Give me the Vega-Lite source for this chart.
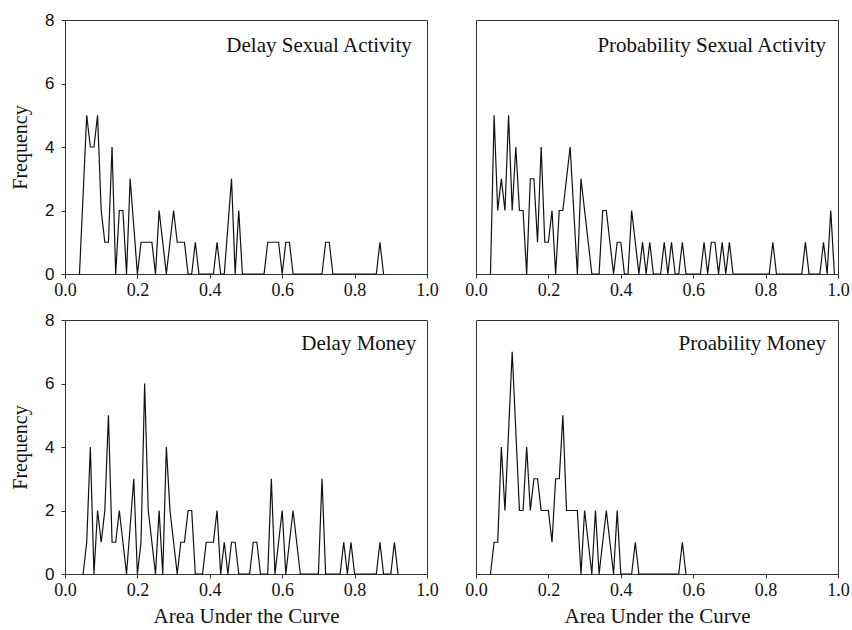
{
  "$schema": "https://vega.github.io/schema/vega-lite/v6.json",
  "background": "white",
  "padding": {"left": 10, "top": 10, "right": 0, "bottom": 0},
  "config": {
    "view": {"stroke": "#333", "strokeWidth": 1},
    "axis": {"grid": false, "domainColor": "#333", "tickColor": "#333", "tickSize": 4, "labelColor": "#111", "titleColor": "#111", "titleFontWeight": "normal", "titleFont": "Liberation Serif", "labelFlush": false, "labelOverlap": false},
    "line": {"color": "#111", "strokeWidth": 1.2},
    "text": {"font": "Liberation Serif", "fontSize": 21, "align": "right", "baseline": "alphabetic", "color": "#111"}
  },
  "datasets": {
    "dsa": [
      {"auc": 0.04, "freq": 0}, {"auc": 0.06, "freq": 5}, {"auc": 0.07, "freq": 4}, {"auc": 0.08, "freq": 4}, {"auc": 0.09, "freq": 5}, {"auc": 0.10, "freq": 2}, {"auc": 0.11, "freq": 1}, {"auc": 0.12, "freq": 1}, {"auc": 0.13, "freq": 4}, {"auc": 0.14, "freq": 0}, {"auc": 0.15, "freq": 2}, {"auc": 0.16, "freq": 2}, {"auc": 0.17, "freq": 0}, {"auc": 0.18, "freq": 3}, {"auc": 0.20, "freq": 0}, {"auc": 0.21, "freq": 1}, {"auc": 0.24, "freq": 1}, {"auc": 0.25, "freq": 0}, {"auc": 0.26, "freq": 2}, {"auc": 0.28, "freq": 0}, {"auc": 0.30, "freq": 2}, {"auc": 0.31, "freq": 1}, {"auc": 0.33, "freq": 1}, {"auc": 0.34, "freq": 0}, {"auc": 0.35, "freq": 0}, {"auc": 0.36, "freq": 1}, {"auc": 0.37, "freq": 0}, {"auc": 0.41, "freq": 0}, {"auc": 0.42, "freq": 1}, {"auc": 0.43, "freq": 0}, {"auc": 0.44, "freq": 0}, {"auc": 0.46, "freq": 3}, {"auc": 0.47, "freq": 0}, {"auc": 0.48, "freq": 2}, {"auc": 0.49, "freq": 0}, {"auc": 0.55, "freq": 0}, {"auc": 0.56, "freq": 1}, {"auc": 0.59, "freq": 1}, {"auc": 0.60, "freq": 0}, {"auc": 0.61, "freq": 1}, {"auc": 0.62, "freq": 1}, {"auc": 0.63, "freq": 0}, {"auc": 0.71, "freq": 0}, {"auc": 0.72, "freq": 1}, {"auc": 0.73, "freq": 1}, {"auc": 0.74, "freq": 0}, {"auc": 0.86, "freq": 0}, {"auc": 0.87, "freq": 1}, {"auc": 0.88, "freq": 0}
    ],
    "psa": [
      {"auc": 0.04, "freq": 0}, {"auc": 0.05, "freq": 5}, {"auc": 0.06, "freq": 2}, {"auc": 0.07, "freq": 3}, {"auc": 0.08, "freq": 2}, {"auc": 0.09, "freq": 5}, {"auc": 0.10, "freq": 2}, {"auc": 0.11, "freq": 4}, {"auc": 0.12, "freq": 2}, {"auc": 0.13, "freq": 2}, {"auc": 0.14, "freq": 0}, {"auc": 0.15, "freq": 3}, {"auc": 0.16, "freq": 3}, {"auc": 0.17, "freq": 1}, {"auc": 0.18, "freq": 4}, {"auc": 0.19, "freq": 1}, {"auc": 0.20, "freq": 1}, {"auc": 0.21, "freq": 2}, {"auc": 0.22, "freq": 0}, {"auc": 0.23, "freq": 2}, {"auc": 0.24, "freq": 2}, {"auc": 0.26, "freq": 4}, {"auc": 0.28, "freq": 0}, {"auc": 0.29, "freq": 3}, {"auc": 0.32, "freq": 0}, {"auc": 0.34, "freq": 0}, {"auc": 0.35, "freq": 2}, {"auc": 0.36, "freq": 2}, {"auc": 0.38, "freq": 0}, {"auc": 0.39, "freq": 1}, {"auc": 0.40, "freq": 1}, {"auc": 0.41, "freq": 0}, {"auc": 0.42, "freq": 0}, {"auc": 0.43, "freq": 2}, {"auc": 0.45, "freq": 0}, {"auc": 0.46, "freq": 1}, {"auc": 0.47, "freq": 0}, {"auc": 0.48, "freq": 1}, {"auc": 0.49, "freq": 0}, {"auc": 0.51, "freq": 0}, {"auc": 0.52, "freq": 1}, {"auc": 0.53, "freq": 0}, {"auc": 0.54, "freq": 1}, {"auc": 0.55, "freq": 0}, {"auc": 0.56, "freq": 0}, {"auc": 0.57, "freq": 1}, {"auc": 0.58, "freq": 0}, {"auc": 0.62, "freq": 0}, {"auc": 0.63, "freq": 1}, {"auc": 0.64, "freq": 0}, {"auc": 0.65, "freq": 1}, {"auc": 0.66, "freq": 1}, {"auc": 0.67, "freq": 0}, {"auc": 0.68, "freq": 1}, {"auc": 0.69, "freq": 0}, {"auc": 0.70, "freq": 1}, {"auc": 0.71, "freq": 0}, {"auc": 0.81, "freq": 0}, {"auc": 0.82, "freq": 1}, {"auc": 0.83, "freq": 0}, {"auc": 0.90, "freq": 0}, {"auc": 0.91, "freq": 1}, {"auc": 0.92, "freq": 0}, {"auc": 0.95, "freq": 0}, {"auc": 0.96, "freq": 1}, {"auc": 0.97, "freq": 0}, {"auc": 0.98, "freq": 2}, {"auc": 0.99, "freq": 0}
    ],
    "dm": [
      {"auc": 0.05, "freq": 0}, {"auc": 0.06, "freq": 1}, {"auc": 0.07, "freq": 4}, {"auc": 0.08, "freq": 0}, {"auc": 0.09, "freq": 2}, {"auc": 0.10, "freq": 1}, {"auc": 0.11, "freq": 2}, {"auc": 0.12, "freq": 5}, {"auc": 0.13, "freq": 1}, {"auc": 0.14, "freq": 1}, {"auc": 0.15, "freq": 2}, {"auc": 0.17, "freq": 0}, {"auc": 0.19, "freq": 3}, {"auc": 0.20, "freq": 0}, {"auc": 0.21, "freq": 1}, {"auc": 0.22, "freq": 6}, {"auc": 0.23, "freq": 2}, {"auc": 0.25, "freq": 0}, {"auc": 0.26, "freq": 2}, {"auc": 0.27, "freq": 0}, {"auc": 0.28, "freq": 4}, {"auc": 0.29, "freq": 2}, {"auc": 0.31, "freq": 0}, {"auc": 0.32, "freq": 1}, {"auc": 0.33, "freq": 1}, {"auc": 0.34, "freq": 2}, {"auc": 0.35, "freq": 2}, {"auc": 0.36, "freq": 0}, {"auc": 0.38, "freq": 0}, {"auc": 0.39, "freq": 1}, {"auc": 0.41, "freq": 1}, {"auc": 0.42, "freq": 2}, {"auc": 0.43, "freq": 0}, {"auc": 0.44, "freq": 1}, {"auc": 0.45, "freq": 0}, {"auc": 0.46, "freq": 1}, {"auc": 0.47, "freq": 1}, {"auc": 0.48, "freq": 0}, {"auc": 0.51, "freq": 0}, {"auc": 0.52, "freq": 1}, {"auc": 0.53, "freq": 1}, {"auc": 0.54, "freq": 0}, {"auc": 0.56, "freq": 0}, {"auc": 0.57, "freq": 3}, {"auc": 0.58, "freq": 0}, {"auc": 0.60, "freq": 2}, {"auc": 0.61, "freq": 0}, {"auc": 0.63, "freq": 2}, {"auc": 0.65, "freq": 0}, {"auc": 0.70, "freq": 0}, {"auc": 0.71, "freq": 3}, {"auc": 0.72, "freq": 0}, {"auc": 0.76, "freq": 0}, {"auc": 0.77, "freq": 1}, {"auc": 0.78, "freq": 0}, {"auc": 0.79, "freq": 1}, {"auc": 0.80, "freq": 0}, {"auc": 0.86, "freq": 0}, {"auc": 0.87, "freq": 1}, {"auc": 0.88, "freq": 0}, {"auc": 0.90, "freq": 0}, {"auc": 0.91, "freq": 1}, {"auc": 0.92, "freq": 0}
    ],
    "pm": [
      {"auc": 0.04, "freq": 0}, {"auc": 0.05, "freq": 1}, {"auc": 0.06, "freq": 1}, {"auc": 0.07, "freq": 4}, {"auc": 0.08, "freq": 2}, {"auc": 0.10, "freq": 7}, {"auc": 0.12, "freq": 2}, {"auc": 0.13, "freq": 2}, {"auc": 0.14, "freq": 4}, {"auc": 0.15, "freq": 2}, {"auc": 0.16, "freq": 3}, {"auc": 0.17, "freq": 3}, {"auc": 0.18, "freq": 2}, {"auc": 0.20, "freq": 2}, {"auc": 0.21, "freq": 1}, {"auc": 0.22, "freq": 3}, {"auc": 0.23, "freq": 3}, {"auc": 0.24, "freq": 5}, {"auc": 0.25, "freq": 2}, {"auc": 0.28, "freq": 2}, {"auc": 0.29, "freq": 0}, {"auc": 0.30, "freq": 2}, {"auc": 0.32, "freq": 0}, {"auc": 0.33, "freq": 2}, {"auc": 0.34, "freq": 0}, {"auc": 0.36, "freq": 2}, {"auc": 0.38, "freq": 0}, {"auc": 0.39, "freq": 2}, {"auc": 0.40, "freq": 0}, {"auc": 0.43, "freq": 0}, {"auc": 0.44, "freq": 1}, {"auc": 0.45, "freq": 0}, {"auc": 0.56, "freq": 0}, {"auc": 0.57, "freq": 1}, {"auc": 0.58, "freq": 0}
    ]
  },
  "columns": 2,
  "spacing": {"row": 46, "column": 49},
  "bounds": "flush",
  "concat": [
    {
      "width": 362, "height": 254,
      "encoding": {
        "x": {"field": "auc", "type": "quantitative", "scale": {"domain": [0, 1], "nice": false}, "axis": {"values": [0, 0.2, 0.4, 0.6, 0.8, 1.0], "format": ".1f", "title": null, "labelFont": "Liberation Serif", "labelFontSize": 18, "labelPadding": 3}},
        "y": {"field": "freq", "type": "quantitative", "scale": {"domain": [0, 8], "nice": false}, "axis": {"values": [0, 2, 4, 6, 8], "title": "Frequency", "labelFont": "Liberation Sans", "labelFontSize": 17, "labelPadding": 7, "titleFontSize": 20, "titlePadding": 14}}
      },
      "layer": [
        {"data": {"name": "dsa"}, "mark": {"type": "line"}},
        {"data": {"values": [{"auc": 0.958, "freq": 7.0, "label": "Delay Sexual Activity"}]}, "mark": {"type": "text"}, "encoding": {"text": {"field": "label"}}}
      ]
    },
    {
      "width": 362, "height": 254,
      "encoding": {
        "x": {"field": "auc", "type": "quantitative", "scale": {"domain": [0, 1], "nice": false}, "axis": {"values": [0, 0.2, 0.4, 0.6, 0.8, 1.0], "format": ".1f", "title": null, "labelFont": "Liberation Serif", "labelFontSize": 18, "labelPadding": 3}},
        "y": {"field": "freq", "type": "quantitative", "scale": {"domain": [0, 8], "nice": false}, "axis": null}
      },
      "layer": [
        {"data": {"name": "psa"}, "mark": {"type": "line"}},
        {"data": {"values": [{"auc": 0.967, "freq": 7.0, "label": "Probability Sexual Activity"}]}, "mark": {"type": "text"}, "encoding": {"text": {"field": "label"}}}
      ]
    },
    {
      "width": 362, "height": 254,
      "encoding": {
        "x": {"field": "auc", "type": "quantitative", "scale": {"domain": [0, 1], "nice": false}, "axis": {"values": [0, 0.2, 0.4, 0.6, 0.8, 1.0], "format": ".1f", "title": "Area Under the Curve", "labelFont": "Liberation Serif", "labelFontSize": 18, "labelPadding": 3, "titleFontSize": 21, "titlePadding": 6}},
        "y": {"field": "freq", "type": "quantitative", "scale": {"domain": [0, 8], "nice": false}, "axis": {"values": [0, 2, 4, 6, 8], "title": "Frequency", "labelFont": "Liberation Sans", "labelFontSize": 17, "labelPadding": 7, "titleFontSize": 20, "titlePadding": 14}}
      },
      "layer": [
        {"data": {"name": "dm"}, "mark": {"type": "line"}},
        {"data": {"values": [{"auc": 0.97, "freq": 7.05, "label": "Delay Money"}]}, "mark": {"type": "text"}, "encoding": {"text": {"field": "label"}}}
      ]
    },
    {
      "width": 362, "height": 254,
      "encoding": {
        "x": {"field": "auc", "type": "quantitative", "scale": {"domain": [0, 1], "nice": false}, "axis": {"values": [0, 0.2, 0.4, 0.6, 0.8, 1.0], "format": ".1f", "title": "Area Under the Curve", "labelFont": "Liberation Serif", "labelFontSize": 18, "labelPadding": 3, "titleFontSize": 21, "titlePadding": 6}},
        "y": {"field": "freq", "type": "quantitative", "scale": {"domain": [0, 8], "nice": false}, "axis": null}
      },
      "layer": [
        {"data": {"name": "pm"}, "mark": {"type": "line"}},
        {"data": {"values": [{"auc": 0.967, "freq": 7.05, "label": "Proability Money"}]}, "mark": {"type": "text"}, "encoding": {"text": {"field": "label"}}}
      ]
    }
  ]
}
